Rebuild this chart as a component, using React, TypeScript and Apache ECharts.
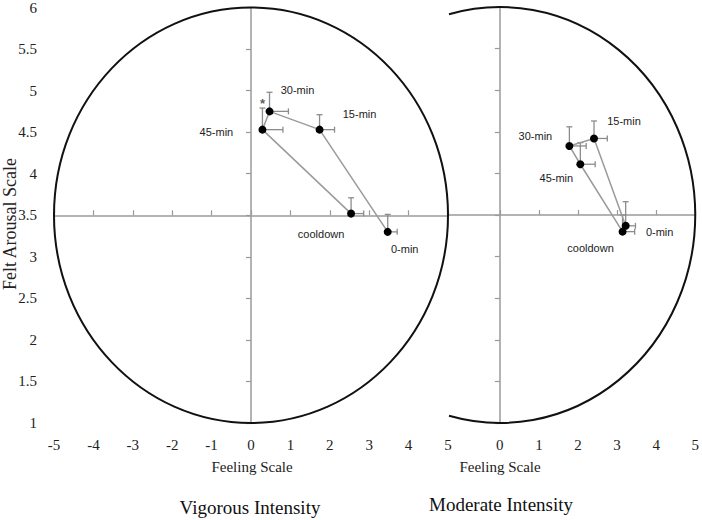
import React, { useEffect, useRef } from "react";
import * as echarts from "echarts";

// ---- data ----
const timepoints = ["0-min", "15-min", "30-min", "45-min", "cooldown"];

const vigorousFeeling = [3.47, 1.74, 0.47, 0.29, 2.54];
const vigorousArousal = [3.3, 4.53, 4.75, 4.53, 3.52];
const vigorousFeelingErr = [0.24, 0.38, 0.48, 0.52, 0.32];
const vigorousArousalErr = [0.21, 0.18, 0.23, 0.26, 0.19];

const moderateFeeling = [3.22, 2.41, 1.78, 2.06, 3.14];
const moderateArousal = [3.37, 4.42, 4.33, 4.11, 3.3];
const moderateFeelingErr = [0.25, 0.34, 0.43, 0.38, 0.31];
const moderateArousalErr = [0.29, 0.21, 0.23, 0.26, 0.2];

const significantTimepoint = "45-min"; // asterisk, vigorous panel

const leftXTicks = [-5, -4, -3, -2, -1, 0, 1, 2, 3, 4, 5];
const rightXTicks = [0, 1, 2, 3, 4, 5];
const yTicks = [1, 1.5, 2, 2.5, 3, 3.5, 4, 4.5, 5, 5.5, 6];

// circumplex: centre (feeling, arousal) and radii (feeling, arousal)
const circumplex = [0, 3.5, 5, 2.5];

// ---- layout / style (not data) ----
const labelOffsetsVigorous = [
  [17, 17],
  [40, -16],
  [28, -21],
  [-46, 2],
  [-30, 20],
];
const labelOffsetsModerate = [
  [34, 6],
  [30, -17],
  [-34, -10],
  [-24, 14],
  [-32, 16],
];

const SERIF = "Liberation Serif";
const SANS = "Liberation Sans";
const AXIS_GRAY = "#9a9a9a";

function errorBarRender(params: any, api: any) {
  const x = api.value(0);
  const y = api.value(1);
  const ex = api.value(2);
  const ey = api.value(3);
  const p = api.coord([x, y]);
  const ph = api.coord([x + ex, y]);
  const pv = api.coord([x, y + ey]);
  const style = { stroke: "#8c8c8c", lineWidth: 1.3, fill: null };
  return {
    type: "group",
    children: [
      { type: "line", shape: { x1: p[0], y1: p[1], x2: ph[0], y2: ph[1] }, style },
      { type: "line", shape: { x1: ph[0], y1: ph[1] - 3, x2: ph[0], y2: ph[1] + 3 }, style },
      { type: "line", shape: { x1: p[0], y1: p[1], x2: pv[0], y2: pv[1] }, style },
      { type: "line", shape: { x1: pv[0] - 3, y1: pv[1], x2: pv[0] + 3, y2: pv[1] }, style },
    ],
  };
}

function fullEllipseRender(params: any, api: any) {
  const c = api.coord([api.value(0), api.value(1)]);
  const s = api.size([api.value(2), api.value(3)]);
  return {
    type: "ellipse",
    shape: { cx: c[0], cy: c[1], rx: s[0], ry: s[1] },
    style: { fill: null, stroke: "#111", lineWidth: 2 },
  };
}

function clippedEllipseRender(params: any, api: any) {
  const c = api.coord([api.value(0), api.value(1)]);
  const s = api.size([api.value(2), api.value(3)]);
  const cs = params.coordSys;
  const cosA = Math.max(-1, Math.min(1, (cs.x - c[0]) / s[0]));
  const a = Math.acos(cosA);
  return {
    type: "arc",
    x: c[0],
    y: c[1],
    scaleY: s[1] / s[0],
    shape: { cx: 0, cy: 0, r: s[0], startAngle: -a, endAngle: a, clockwise: true },
    style: { fill: null, stroke: "#111", lineWidth: 2, strokeNoScale: true },
  };
}

function pointSeries(
  xs: number[],
  ys: number[],
  offsets: number[][],
  xAxisIndex: number,
  yAxisIndex: number
) {
  return {
    type: "line",
    xAxisIndex,
    yAxisIndex,
    z: 5,
    clip: false,
    symbol: "circle",
    symbolSize: 8,
    itemStyle: { color: "#000" },
    lineStyle: { color: "#9a9a9a", width: 1.5 },
    data: xs.map((x, i) => ({
      value: [x, ys[i]],
      name: timepoints[i],
      label: { offset: offsets[i] },
    })),
    label: {
      show: true,
      position: "inside",
      formatter: "{b}",
      fontFamily: SANS,
      fontSize: 11,
      color: "#222",
      textBorderWidth: 0,
      align: "center",
      verticalAlign: "middle",
    },
  };
}

function errorSeries(xs: number[], ys: number[], exs: number[], eys: number[], xAxisIndex: number, yAxisIndex: number) {
  return {
    type: "custom",
    xAxisIndex,
    yAxisIndex,
    z: 3,
    clip: false,
    encode: { x: 0, y: 1 },
    renderItem: errorBarRender,
    data: xs.map((x, i) => [x, ys[i], exs[i], eys[i]]),
  };
}

export default function App() {
  const ref = useRef<HTMLDivElement>(null);

  useEffect(() => {
    if (!ref.current) return;
    const chart = echarts.init(ref.current, undefined, { renderer: "svg" });

    const labelAxisCommon = {
      type: "value",
      axisLine: { show: false, onZero: false },
      axisTick: { show: false },
      splitLine: { show: false },
    };
    const lineAxisCommon = {
      type: "value",
      axisLabel: { show: false },
      splitLine: { show: false },
    };

    const sigIdx = timepoints.indexOf(significantTimepoint);

    const option: any = {
      animation: false,
      backgroundColor: "#fff",
      grid: [
        { left: 54, top: 7, width: 394, height: 416 },
        { left: 449, top: 7, width: 247, height: 416 },
      ],
      xAxis: [
        // 0: left labels
        {
          ...labelAxisCommon,
          gridIndex: 0,
          position: "bottom",
          min: -5,
          max: 5,
          interval: 1,
          axisLabel: {
            margin: 14,
            fontFamily: SERIF,
            fontSize: 15,
            color: "#222",
            customValues: leftXTicks,
          },
        },
        // 1: left crossing line
        {
          ...lineAxisCommon,
          gridIndex: 0,
          position: "bottom",
          min: -5,
          max: 5,
          interval: 1,
          axisLine: {
            show: true,
            onZero: true,
            onZeroAxisIndex: 1,
            lineStyle: { color: AXIS_GRAY, width: 1.5 },
          },
          axisTick: {
            show: true,
            inside: true,
            length: 5,
            lineStyle: { color: AXIS_GRAY, width: 1.2 },
            customValues: leftXTicks,
          },
        },
        // 2: right labels
        {
          ...labelAxisCommon,
          gridIndex: 1,
          position: "bottom",
          min: -1.3,
          max: 5,
          axisLabel: {
            margin: 14,
            fontFamily: SERIF,
            fontSize: 15,
            color: "#222",
            customValues: rightXTicks,
          },
        },
        // 3: right crossing line
        {
          ...lineAxisCommon,
          gridIndex: 1,
          position: "bottom",
          min: -1.3,
          max: 5,
          axisLine: {
            show: true,
            onZero: true,
            onZeroAxisIndex: 4,
            lineStyle: { color: AXIS_GRAY, width: 1.5 },
          },
          axisTick: {
            show: true,
            inside: true,
            length: 5,
            lineStyle: { color: AXIS_GRAY, width: 1.2 },
            customValues: rightXTicks,
          },
        },
      ],
      yAxis: [
        // 0: left labels
        {
          ...labelAxisCommon,
          gridIndex: 0,
          position: "left",
          min: 1,
          max: 6,
          interval: 0.5,
          axisLabel: {
            margin: 17,
            fontFamily: SERIF,
            fontSize: 15,
            color: "#222",
            customValues: yTicks,
          },
        },
        // 1: hidden helper whose zero is the arousal midpoint (left)
        { type: "value", gridIndex: 0, min: -2.5, max: 2.5, show: false },
        // 2: left vertical line
        {
          ...lineAxisCommon,
          gridIndex: 0,
          position: "left",
          min: 1,
          max: 6,
          interval: 0.5,
          axisLine: {
            show: true,
            onZero: true,
            onZeroAxisIndex: 0,
            lineStyle: { color: AXIS_GRAY, width: 1.5 },
          },
          axisTick: {
            show: true,
            inside: false,
            length: 5,
            lineStyle: { color: AXIS_GRAY, width: 1.2 },
          },
        },
        // 3: right vertical line
        {
          ...lineAxisCommon,
          gridIndex: 1,
          position: "left",
          min: 1,
          max: 6,
          interval: 0.5,
          axisLine: {
            show: true,
            onZero: true,
            onZeroAxisIndex: 2,
            lineStyle: { color: AXIS_GRAY, width: 1.5 },
          },
          axisTick: {
            show: true,
            inside: false,
            length: 5,
            lineStyle: { color: AXIS_GRAY, width: 1.2 },
          },
        },
        // 4: hidden helper (right)
        { type: "value", gridIndex: 1, min: -2.5, max: 2.5, show: false },
      ],
      series: [
        {
          type: "custom",
          xAxisIndex: 0,
          yAxisIndex: 0,
          z: 1,
          clip: false,
          encode: { x: 0, y: 1 },
          renderItem: fullEllipseRender,
          data: [circumplex],
        },
        {
          type: "custom",
          xAxisIndex: 2,
          yAxisIndex: 3,
          z: 1,
          clip: false,
          encode: { x: 0, y: 1 },
          renderItem: clippedEllipseRender,
          data: [circumplex],
        },
        errorSeries(vigorousFeeling, vigorousArousal, vigorousFeelingErr, vigorousArousalErr, 0, 0),
        errorSeries(moderateFeeling, moderateArousal, moderateFeelingErr, moderateArousalErr, 2, 3),
        pointSeries(vigorousFeeling, vigorousArousal, labelOffsetsVigorous, 0, 0),
        pointSeries(moderateFeeling, moderateArousal, labelOffsetsModerate, 2, 3),
        {
          type: "scatter",
          xAxisIndex: 0,
          yAxisIndex: 0,
          z: 6,
          symbolSize: 1,
          itemStyle: { color: "rgba(0,0,0,0)" },
          data: [[vigorousFeeling[sigIdx], vigorousArousal[sigIdx]]],
          label: {
            show: true,
            position: "inside",
            formatter: "*",
            offset: [0, -26],
            fontFamily: SANS,
            fontSize: 13,
            fontWeight: "bold",
            color: "#333",
            textBorderWidth: 0,
          },
          silent: true,
        },
      ],
      graphic: [
        {
          type: "text",
          x: 10,
          y: 224,
          rotation: Math.PI / 2,
          style: {
            text: "Felt Arousal Scale",
            fontFamily: SERIF,
            fontSize: 18,
            fill: "#222",
            align: "center",
            verticalAlign: "middle",
          },
        },
        {
          type: "text",
          x: 252,
          y: 467,
          style: {
            text: "Feeling Scale",
            fontFamily: SERIF,
            fontSize: 15,
            fill: "#222",
            align: "center",
            verticalAlign: "middle",
          },
        },
        {
          type: "text",
          x: 500,
          y: 467,
          style: {
            text: "Feeling Scale",
            fontFamily: SERIF,
            fontSize: 15,
            fill: "#222",
            align: "center",
            verticalAlign: "middle",
          },
        },
        {
          type: "text",
          x: 250,
          y: 507,
          style: {
            text: "Vigorous Intensity",
            fontFamily: SERIF,
            fontSize: 19,
            fill: "#111",
            align: "center",
            verticalAlign: "middle",
          },
        },
        {
          type: "text",
          x: 501,
          y: 504,
          style: {
            text: "Moderate Intensity",
            fontFamily: SERIF,
            fontSize: 19,
            fill: "#111",
            align: "center",
            verticalAlign: "middle",
          },
        },
      ],
    };

    chart.setOption(option);
    return () => chart.dispose();
  }, []);

  return (
    <div
      ref={ref}
      style={{ position: "fixed", left: 0, top: 0, width: 702, height: 520, background: "#fff" }}
    />
  );
}
